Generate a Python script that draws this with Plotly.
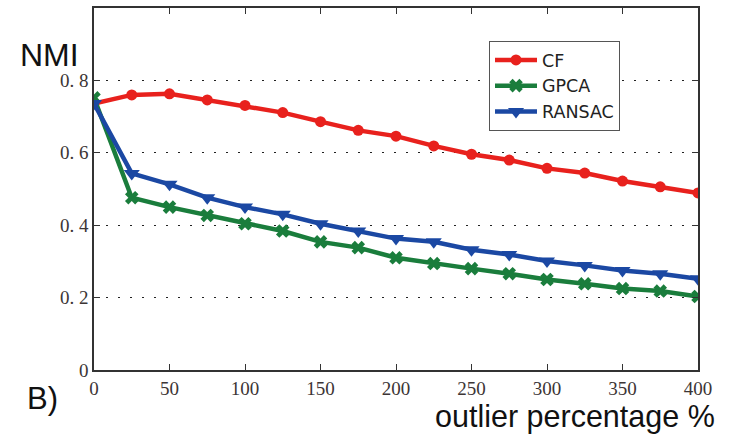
import plotly.graph_objects as go

outlier_pct = [0, 25, 50, 75, 100, 125, 150, 175, 200, 225, 250, 275, 300, 325, 350, 375, 400]
cf = [0.736, 0.760, 0.763, 0.746, 0.731, 0.711, 0.686, 0.662, 0.646, 0.619, 0.596, 0.580, 0.557, 0.544, 0.522, 0.506, 0.489]
gpca = [0.752, 0.476, 0.450, 0.427, 0.404, 0.384, 0.354, 0.338, 0.310, 0.294, 0.280, 0.266, 0.250, 0.238, 0.225, 0.218, 0.203]
ransac = [0.736, 0.543, 0.513, 0.476, 0.450, 0.430, 0.404, 0.384, 0.363, 0.354, 0.332, 0.319, 0.301, 0.289, 0.275, 0.266, 0.252]

x_ticks = [0, 50, 100, 150, 200, 250, 300, 350, 400]
x_tick_text = ["0", "50", "100", "150", "200", "250", "300", "350", "400"]
y_ticks = [0, 0.2, 0.4, 0.6, 0.8, 1]
y_tick_text = ["0", "0.\u00a02", "0.\u00a04", "0.\u00a06", "0.\u00a08", "1"]

W, H = 736, 434
L, R, T, B = 94, 38, 8, 64
PW, PH = W - L - R, H - T - B

def px_x(px):
    return (px - L) / PW

def px_y(py):
    return (H - B - py) / PH

fig = go.Figure()
fig.add_trace(go.Scatter(x=outlier_pct, y=cf, name="CF", mode="lines+markers",
                         line=dict(color="#e8211d", width=4.5),
                         marker=dict(symbol="circle", size=11, color="#e8211d")))
fig.add_trace(go.Scatter(x=outlier_pct, y=gpca, name="GPCA", mode="lines+markers",
                         line=dict(color="#1a7d3c", width=4.5),
                         marker=dict(symbol="x", size=12, color="#1a7d3c")))
fig.add_trace(go.Scatter(x=outlier_pct, y=ransac, name="RANSAC", mode="lines+markers",
                         line=dict(color="#1b48a3", width=4.5),
                         marker=dict(symbol="triangle-down", size=14, color="#1b48a3")))

tick_font = dict(family="Liberation Serif", size=19, color="#3c3535")
sans = "Liberation Sans"

fig.update_layout(
    width=W, height=H,
    margin=dict(l=L, r=R, t=T, b=B, autoexpand=False),
    paper_bgcolor="white", plot_bgcolor="white",
    showlegend=True,
    legend=dict(x=px_x(489), y=px_y(41), xanchor="left", yanchor="top",
                bgcolor="white", bordercolor="#555555", borderwidth=1,
                font=dict(family="DejaVu Sans", size=17.5, color="#222222"),
                tracegroupgap=0, itemwidth=42),
    xaxis=dict(range=[0, 400], tickvals=x_ticks, ticktext=x_tick_text, automargin=False,
               showgrid=False, zeroline=False, showline=True, linecolor="#333333", linewidth=1.5,
               mirror="ticks", ticks="inside", ticklen=6, tickcolor="#333333",
               tickfont=tick_font),
    yaxis=dict(range=[0, 1], tickvals=y_ticks, ticktext=y_tick_text, automargin=False,
               showgrid=True, gridcolor="#222222", griddash="2px,10px", gridwidth=1,
               zeroline=False, showline=True, linecolor="#333333", linewidth=1.5,
               mirror="ticks", ticks="inside", ticklen=6, tickcolor="#333333",
               tickfont=tick_font),
    annotations=[
        dict(text="NMI", x=px_x(49), y=px_y(55), xref="paper", yref="paper", showarrow=False,
             xanchor="center", yanchor="middle", font=dict(family=sans, size=32, color="#111111")),
        dict(text="B)", x=px_x(42), y=px_y(398), xref="paper", yref="paper", showarrow=False,
             xanchor="center", yanchor="middle", font=dict(family=sans, size=31, color="#111111")),
        dict(text="outlier percentage %", x=px_x(717), y=px_y(416), xref="paper", yref="paper",
             showarrow=False, xanchor="right", yanchor="middle",
             font=dict(family=sans, size=30.5, color="#111111")),
    ],
)

fig.write_html("out.html", config={"displayModeBar": False},
               post_script="document.body.style.margin='0';")
